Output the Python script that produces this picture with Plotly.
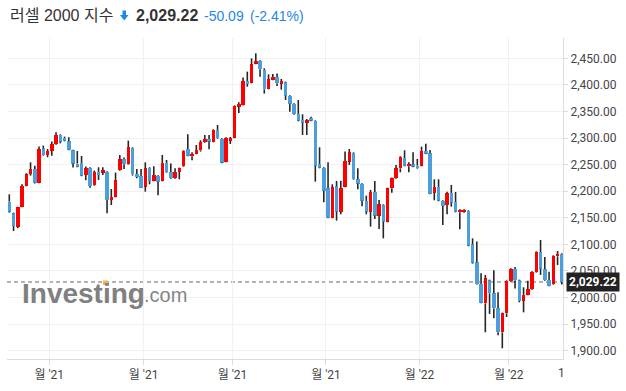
import plotly.graph_objects as go

# ---------------- data ----------------
opens = [2180.4, 2158.5, 2133.4, 2171.0, 2210.5, 2232.4, 2241.9, 2216.1, 2280.7, 2268.2,
         2276.3, 2288.9, 2305.8, 2300.2, 2293.9, 2277.0, 2251.9, 2253.2, 2230.6, 2243.7,
         2211.8, 2236.2, 2235.0, 2236.2, 2183.5, 2189.8, 2239.4, 2260.7, 2250.6, 2281.3,
         2232.4, 2228.7, 2208.6, 2243.7, 2219.9, 2228.7, 2219.9, 2253.2, 2236.2, 2224.3,
         2236.9, 2246.9, 2279.5, 2265.7, 2270.7, 2277.0, 2292.6, 2298.3, 2293.3, 2315.2,
         2298.3, 2255.7, 2295.2, 2300.8, 2359.1, 2362.2, 2407.4, 2404.3, 2440.0, 2445.0,
         2428.1, 2392.9, 2409.9, 2414.9, 2402.4, 2404.9, 2379.2, 2364.1, 2345.3, 2334.0,
         2329.0, 2337.8, 2332.1, 2251.3, 2243.7, 2205.5, 2150.3, 2209.2, 2161.6, 2208.6,
         2255.7, 2271.9, 2222.4, 2213.6, 2181.7, 2161.6, 2198.6, 2154.1, 2174.1, 2142.8,
         2205.5, 2224.3, 2243.1, 2262.5, 2246.9, 2250.6, 2248.1, 2248.1, 2275.7, 2271.3,
         2197.3, 2208.0, 2181.7, 2174.1, 2196.7, 2179.8, 2160.3, 2160.3, 2162.9, 2100.2,
         2066.3, 2025.5, 1989.2, 2032.4, 2008.0, 1979.8, 1934.6, 1970.4, 2031.2, 2053.8,
         2032.4, 1994.2, 2005.5, 2015.5, 2048.1, 2085.7, 2053.1, 2033.1, 2024.9, 2077.6,
         2082.0]
closes = [2161.6, 2134.6, 2169.8, 2209.9, 2231.8, 2241.9, 2216.1, 2278.8, 2268.2, 2275.7,
          2288.9, 2305.8, 2293.3, 2295.2, 2278.2, 2251.9, 2246.3, 2229.3, 2243.1, 2209.9,
          2235.6, 2230.6, 2239.4, 2183.5, 2189.2, 2221.2, 2260.0, 2250.6, 2283.2, 2231.8,
          2226.8, 2206.7, 2243.1, 2219.3, 2230.6, 2218.0, 2253.2, 2235.6, 2224.3, 2236.2,
          2243.1, 2275.7, 2266.9, 2270.1, 2277.6, 2292.6, 2298.3, 2293.3, 2315.2, 2299.6,
          2253.8, 2299.6, 2299.6, 2360.4, 2364.1, 2407.4, 2401.7, 2438.7, 2445.0, 2429.3,
          2391.7, 2411.1, 2414.9, 2403.0, 2407.4, 2379.8, 2364.7, 2345.3, 2332.8, 2329.0,
          2334.0, 2332.8, 2248.1, 2244.4, 2201.1, 2150.3, 2207.4, 2161.6, 2205.5, 2256.9,
          2273.2, 2222.4, 2214.3, 2182.3, 2161.6, 2198.6, 2154.1, 2175.4, 2142.8, 2205.5,
          2224.3, 2243.1, 2264.4, 2248.1, 2251.3, 2246.3, 2243.1, 2275.7, 2270.7, 2195.4,
          2208.0, 2182.3, 2172.3, 2196.1, 2178.5, 2161.6, 2164.7, 2164.7, 2097.7, 2065.7,
          2025.5, 1990.4, 2036.2, 2008.0, 1979.8, 1934.6, 1970.4, 2031.2, 2053.1, 2032.4,
          1993.6, 2004.9, 2016.1, 2048.1, 2085.7, 2054.4, 2033.1, 2022.4, 2078.2, 2082.0,
          2029.22]
highs = [2194.2, 2159.7, 2171.0, 2213.0, 2233.7, 2254.4, 2248.1, 2283.9, 2285.7, 2279.5,
         2293.3, 2310.8, 2307.0, 2302.7, 2301.4, 2278.2, 2275.7, 2266.3, 2246.3, 2245.0,
         2238.7, 2245.0, 2245.0, 2237.5, 2204.2, 2235.0, 2268.2, 2263.2, 2295.2, 2282.6,
         2241.9, 2241.9, 2254.4, 2245.0, 2246.9, 2229.9, 2268.2, 2258.8, 2251.9, 2243.1,
         2244.4, 2277.0, 2307.0, 2273.2, 2287.0, 2295.8, 2305.8, 2305.8, 2316.5, 2324.6,
         2299.6, 2301.4, 2302.1, 2361.6, 2367.3, 2413.7, 2424.9, 2450.0, 2459.4, 2446.3,
         2431.2, 2419.9, 2420.5, 2421.2, 2411.1, 2406.1, 2380.4, 2365.4, 2371.6, 2344.7,
         2335.9, 2340.3, 2333.4, 2282.6, 2245.0, 2254.4, 2213.0, 2219.3, 2219.9, 2274.5,
         2279.5, 2273.2, 2243.1, 2214.9, 2191.7, 2202.4, 2219.3, 2183.5, 2175.4, 2206.7,
         2225.6, 2249.4, 2265.7, 2277.0, 2254.4, 2273.2, 2260.7, 2283.9, 2289.5, 2277.6,
         2222.4, 2222.4, 2182.9, 2199.2, 2211.8, 2198.6, 2166.0, 2166.0, 2164.1, 2111.4,
         2105.2, 2045.6, 2042.5, 2033.7, 2051.2, 2009.9, 1971.6, 2032.4, 2055.0, 2057.5,
         2033.7, 2019.3, 2031.8, 2049.4, 2087.0, 2108.3, 2076.3, 2048.7, 2079.5, 2087.6,
         2083.3]
lows = [2159.7, 2125.2, 2130.2, 2169.8, 2209.2, 2229.3, 2214.3, 2214.9, 2266.9, 2263.8,
        2266.9, 2287.6, 2290.1, 2293.9, 2277.0, 2244.4, 2245.0, 2228.1, 2220.5, 2206.7,
        2210.5, 2221.2, 2230.6, 2158.5, 2174.1, 2188.5, 2238.1, 2241.9, 2249.4, 2229.3,
        2224.3, 2206.1, 2199.2, 2213.0, 2218.6, 2192.3, 2218.6, 2234.3, 2223.0, 2223.0,
        2222.4, 2245.6, 2265.7, 2258.2, 2269.5, 2274.5, 2291.4, 2278.8, 2292.0, 2298.3,
        2252.5, 2254.4, 2288.9, 2299.6, 2347.2, 2361.0, 2396.7, 2403.0, 2438.7, 2415.5,
        2383.6, 2391.7, 2408.6, 2398.0, 2391.1, 2371.6, 2349.7, 2344.0, 2331.5, 2305.8,
        2305.8, 2331.5, 2218.0, 2243.1, 2179.2, 2149.1, 2149.1, 2144.7, 2156.6, 2207.4,
        2249.4, 2221.2, 2203.6, 2171.6, 2156.6, 2133.4, 2147.8, 2129.0, 2111.4, 2141.5,
        2197.3, 2223.0, 2235.6, 2246.9, 2235.6, 2245.0, 2241.9, 2246.9, 2269.5, 2194.2,
        2182.9, 2181.0, 2136.5, 2156.6, 2171.0, 2160.3, 2128.4, 2159.1, 2096.4, 2063.8,
        2024.3, 1989.2, 1934.6, 1969.1, 1961.0, 1929.0, 1904.5, 1963.5, 2029.9, 2016.8,
        1991.1, 1972.2, 2004.2, 2014.2, 2046.9, 2042.5, 2031.8, 2021.2, 2023.7, 2061.3,
        2024.4]

x_tick_pos = [9.4, 31.6, 52.5, 74.5, 96.5, 117.5]
x_tick_labels = ["월 '21", "월 '21", "월 '21", "월 '21", "월 '22", "월 '22"]
y_ticks = [1900, 1950, 2000, 2050, 2100, 2150, 2200, 2250, 2300, 2350, 2400, 2450]

title_name = "러셀 2000 지수"
last_price = "2,029.22"
change_abs = "-50.09"
change_pct = "(-2.41%)"
last_close = closes[-1]

UP = "#ff0000"
DOWN = "#4a9fdc"
WICK = "#262626"

# ---------------- layout geometry (pixels) ----------------
W, H = 626, 391
ML, MR, MT, MB = 7, 63, 38, 32
PW, PH = W - ML - MR, H - MT - MB


def px(x):
    return (x - ML) / PW


def py(y):
    return (H - MB - y) / PH


n = len(opens)
idx = list(range(n))
body_base = [min(o, c) for o, c in zip(opens, closes)]
body_h = [abs(c - o) for o, c in zip(opens, closes)]
colors = [UP if c >= o else DOWN for o, c in zip(opens, closes)]

wx, wy = [], []
for i in idx:
    top = max(opens[i], closes[i])
    bot = min(opens[i], closes[i])
    wx += [i, i, None, i, i, None]
    wy += [highs[i], top, None, bot, lows[i], None]

fig = go.Figure()
fig.add_trace(go.Scatter(x=wx, y=wy, mode="lines",
                         line=dict(color=WICK, width=1.6),
                         hoverinfo="skip", showlegend=False))
fig.add_trace(go.Bar(x=idx, y=body_h, base=body_base, width=0.8,
                     marker=dict(color=colors, line=dict(width=0)),
                     showlegend=False))

fig.add_shape(type="line", xref="paper", x0=0, x1=1, yref="y",
              y0=last_close, y1=last_close, layer="between",
              line=dict(color="#9a9a9a", width=1.5, dash="4px,3px"))

font_main = "Roboto, Liberation Sans, Noto Sans CJK KR"

ann = []
# title row
ann.append(dict(text=title_name, x=px(8), y=py(16), xanchor="left", yanchor="middle",
                font=dict(family="Liberation Sans, Noto Sans CJK KR", size=16, color="#333333")))
ann.append(dict(text="<b>" + last_price + "</b>", x=px(134), y=py(16), xanchor="left", yanchor="middle",
                font=dict(family="Liberation Sans, Arial", size=16, color="#333333")))
ann.append(dict(text=change_abs, x=px(202), y=py(16), xanchor="left", yanchor="middle",
                font=dict(family="Liberation Sans, Arial", size=14, color="#1e88e5")))
ann.append(dict(text=change_pct, x=px(248), y=py(16), xanchor="left", yanchor="middle",
                font=dict(family="Liberation Sans, Arial", size=14, color="#1e88e5")))
# last price tag on the axis
ann.append(dict(text="<b>" + last_price + "</b>", x=1, xshift=3, y=last_close, yref="y",
                xanchor="left", yanchor="middle", bgcolor="#222222", borderpad=2,
                font=dict(family=font_main, size=12, color="#ffffff")))
# watermark
ann.append(dict(text="<b>Investing</b>", x=px(20), y=py(293), xanchor="left", yanchor="middle",
                font=dict(family="Liberation Sans, Arial", size=28, color="#808080")))
ann.append(dict(text=".com", x=px(142), y=py(295), xanchor="left", yanchor="middle",
                font=dict(family="Liberation Sans, Arial", size=20, color="#858585")))
# clipped last x label
ann.append(dict(text="1", x=px(561), y=py(373), xanchor="center", yanchor="middle",
                font=dict(family=font_main, size=12, color="#444444")))
for a in ann:
    a.setdefault("xref", "paper")
    a.setdefault("yref", "paper")
    a["showarrow"] = False

# down arrow icon and logo accent
arrow = (f"M {px(122.5)} {py(10.5)} L {px(126)} {py(10.5)} L {px(126)} {py(15)} "
         f"L {px(128.5)} {py(15)} L {px(124.25)} {py(20.5)} L {px(120)} {py(15)} "
         f"L {px(122.5)} {py(15)} Z")
fig.add_shape(type="path", xref="paper", yref="paper", path=arrow,
              fillcolor="#1e88e5", line=dict(width=0), layer="above")
fig.add_shape(type="rect", xref="paper", yref="paper", x0=px(103), x1=px(108),
              y0=py(285), y1=py(280.5), fillcolor="#f6b24a", line=dict(width=0), layer="above")

fig.update_layout(
    width=W, height=H,
    margin=dict(l=ML, r=MR, t=MT, b=MB),
    paper_bgcolor="white", plot_bgcolor="white",
    bargap=0, showlegend=False, annotations=ann,
    font=dict(family=font_main, size=12, color="#333333"),
)
fig.update_xaxes(range=[-0.54, 130.28], tickmode="array", tickvals=x_tick_pos,
                 ticktext=x_tick_labels, showgrid=True, gridcolor="#f1f1f1", gridwidth=1,
                 zeroline=False, showline=True, linecolor="#dcdcdc", linewidth=1,
                 ticks="outside", ticklen=5, tickcolor="#dcdcdc",
                 tickfont=dict(family=font_main, size=12, color="#444444"), fixedrange=True)
fig.update_yaxes(side="right", range=[1884.4, 2488.2], tickmode="array", tickvals=y_ticks,
                 tickformat=",.2f", showgrid=True, gridcolor="#f1f1f1", gridwidth=1,
                 zeroline=False, showline=True, linecolor="#dcdcdc", linewidth=1,
                 ticks="outside", ticklen=4, tickcolor="#dcdcdc",
                 tickfont=dict(family=font_main, size=12, color="#444444"), fixedrange=True)

fig.write_html("out.html", config={"displayModeBar": False},
               post_script="document.body.style.margin='0';document.body.style.overflow='hidden';")
